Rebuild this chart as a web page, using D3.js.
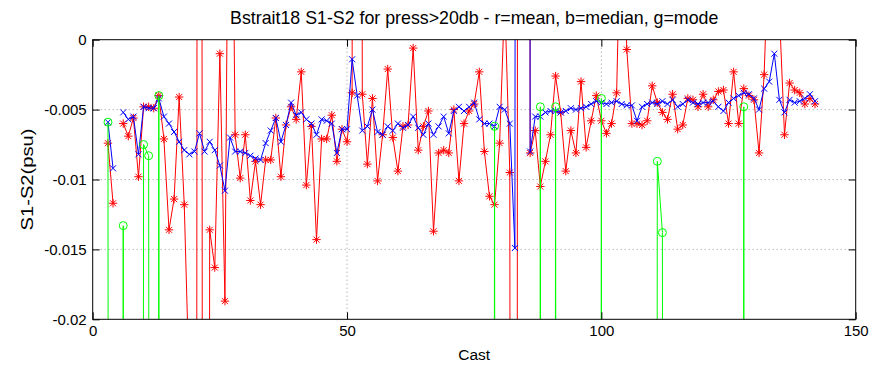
<!DOCTYPE html>
<html><head><meta charset="utf-8">
<script src="https://cdn.jsdelivr.net/npm/d3@7"></script>
<style>
body{margin:0;background:#fff;}
text{font-family:"Liberation Sans",Arial,Helvetica,sans-serif;fill:#000;}
</style>
</head><body><svg id="c" width="884" height="365"></svg>
<script>
// ---- data (casts 3..142) ----
const casts = d3.range(3, 143);
const meanS1S2 = [
 -0.0074,-0.0117,null,-0.0060,-0.0069,-0.0056,-0.0098,-0.0048,-0.0048,-0.0049,
 -0.0040,-0.0071,-0.0136,-0.0114,-0.0041,-0.0118,-0.025,-0.3,0.3,-0.3,
 -0.0136,-0.0163,-0.0010,-0.0187,0.03,-0.0068,-0.0099,-0.0068,-0.0115,-0.0087,
 -0.0118,-0.0086,-0.0086,-0.0056,-0.0098,-0.0061,-0.0048,-0.0057,-0.0023,-0.0104,
 -0.0062,-0.0143,-0.0071,-0.0071,-0.0054,-0.0087,-0.0064,-0.0073,-0.0038,0.3,
 -0.0039,-0.0089,-0.0042,-0.0101,-0.0068,-0.0021,-0.0070,-0.0094,-0.0062,-0.0061,
 -0.0006,-0.0079,-0.0062,-0.0051,-0.0137,-0.0081,-0.0079,-0.0081,-0.0050,-0.0101,
 -0.0060,-0.0051,-0.0046,-0.0023,-0.0080,-0.0112,-0.0118,-0.0074,0.0031,-0.0095,
 -0.4,0.4,0.4,-0.0081,-0.0065,-0.0105,-0.0087,-0.0068,-0.0026,-0.0052,
 -0.0094,-0.0065,-0.0081,-0.0030,-0.0077,-0.0058,-0.0040,-0.0058,-0.0067,-0.0060,
 -0.0038,0.012,-0.0007,-0.0060,-0.0060,-0.0061,-0.0058,-0.0033,-0.0045,-0.0052,
 -0.0057,-0.0039,-0.0064,-0.0061,-0.0042,-0.0043,-0.0048,-0.0039,-0.0048,-0.0043,
 -0.0037,-0.0036,-0.0060,-0.0023,-0.0060,-0.0035,-0.0040,-0.0043,-0.0081,-0.0025,
 0.008,0.008,0.002,-0.0068,-0.0031,-0.0036,-0.0038,-0.0046,-0.0042,-0.0046
];
const medianS1S2 = [
 -0.0059,-0.0092,null,-0.0052,-0.0057,-0.0055,-0.0082,-0.0048,-0.0049,-0.0049,
 -0.0042,-0.0055,-0.0060,-0.0066,-0.0073,-0.0079,-0.0082,-0.0080,-0.0067,-0.0080,
 -0.0073,-0.0079,-0.0090,-0.0108,-0.0070,-0.0080,-0.0080,-0.0081,-0.0083,-0.0085,
 -0.0086,-0.0074,-0.0065,-0.0056,-0.0073,-0.0061,-0.0045,-0.0054,-0.0052,-0.0057,
 -0.0060,-0.0068,-0.0057,-0.0058,-0.0060,-0.0081,-0.0064,-0.0064,-0.0014,-0.0040,
 -0.0065,-0.0062,-0.0050,-0.0066,-0.0068,-0.0062,-0.0065,-0.0060,-0.0063,-0.0061,
 -0.0055,-0.0063,-0.0068,-0.0060,-0.0068,-0.0062,-0.0055,-0.0067,-0.0051,-0.0048,
 -0.0051,-0.0048,-0.0045,-0.0057,-0.0060,-0.0060,-0.0062,-0.0048,-0.0050,-0.0060,
 -0.0149,0.4,0.4,-0.0080,-0.0055,-0.0055,-0.0052,-0.0051,-0.0051,-0.0052,
 -0.0051,-0.0049,-0.0050,-0.0049,-0.0048,-0.0046,-0.0044,-0.0045,-0.0046,-0.0045,
 -0.0044,-0.0046,-0.0047,-0.0047,-0.0058,-0.0048,-0.0046,-0.0045,-0.0046,-0.0044,
 -0.0046,-0.0043,-0.0048,-0.0046,-0.0043,-0.0045,-0.0046,-0.0045,-0.0045,-0.0044,
 -0.0048,-0.0051,-0.0045,-0.0042,-0.0040,-0.0038,-0.0039,-0.0042,-0.0050,-0.0035,
 -0.0030,-0.0010,-0.0043,-0.0052,-0.0043,-0.0045,-0.0044,-0.0042,-0.0039,-0.0044
];
const OFF = -0.5; // mode values far below the plotted range
const modeS1S2 = [
 -0.0059,OFF,OFF,-0.0133,OFF,OFF,OFF,-0.0075,-0.0083,OFF,
 -0.0040,OFF,OFF,OFF,OFF,OFF,OFF,OFF,OFF,OFF,
 OFF,OFF,OFF,OFF,OFF,OFF,OFF,OFF,OFF,OFF,
 OFF,OFF,OFF,OFF,OFF,OFF,OFF,OFF,OFF,OFF,
 OFF,OFF,OFF,OFF,OFF,OFF,OFF,OFF,OFF,OFF,
 OFF,OFF,OFF,OFF,OFF,OFF,OFF,OFF,OFF,OFF,
 OFF,OFF,OFF,OFF,OFF,OFF,OFF,OFF,OFF,OFF,
 OFF,OFF,OFF,OFF,OFF,OFF,-0.0062,OFF,OFF,OFF,
 OFF,OFF,OFF,OFF,OFF,-0.0048,OFF,OFF,-0.0048,OFF,
 OFF,OFF,OFF,OFF,OFF,OFF,OFF,-0.0042,OFF,OFF,
 OFF,OFF,OFF,OFF,OFF,OFF,OFF,OFF,-0.0087,-0.0138,
 OFF,OFF,OFF,OFF,OFF,OFF,OFF,OFF,OFF,OFF,
 OFF,OFF,OFF,OFF,OFF,-0.0048,OFF,OFF,OFF,OFF,
 OFF,OFF,OFF,OFF,OFF,OFF,OFF,OFF,OFF,OFF
];
const xTicks = [0, 50, 100, 150];
const yTicks = [0, -0.005, -0.01, -0.015, -0.02];
const yTickLabels = ["0", "-0.005", "-0.01", "-0.015", "-0.02"];
const titleText = "Bstrait18 S1-S2 for press>20db - r=mean, b=median, g=mode";
const xLabel = "Cast";
const yLabel = "S1-S2(psu)";

// ---- layout ----
const L = 92.7, R = 855.7, T = 39.7, B = 319.3;
const svg = d3.select("#c");
const x = d3.scaleLinear().domain([0, 150]).range([L, R]);
const y = d3.scaleLinear().domain([-0.02, 0]).range([B, T]);

svg.append("rect").attr("width", 884).attr("height", 365).attr("fill", "#fff");
svg.append("defs").append("clipPath").attr("id", "clip")
  .append("rect").attr("x", L).attr("y", T).attr("width", R - L).attr("height", B - T);

// grid
const grid = svg.append("g").attr("stroke", "#9a9a9a").attr("stroke-width", 1).attr("stroke-dasharray", "1,3");
xTicks.filter(t => t > 0 && t < 150).forEach(t =>
  grid.append("line").attr("x1", x(t)).attr("x2", x(t)).attr("y1", T).attr("y2", B));
yTicks.filter(t => t < 0 && t > -0.02).forEach(t =>
  grid.append("line").attr("x1", L).attr("x2", R).attr("y1", y(t)).attr("y2", y(t)));

// series
const plot = svg.append("g").attr("clip-path", "url(#clip)");
function series(vals, color, marker) {
  const pts = casts.map((c, i) => ({c, v: vals[i]}));
  const line = d3.line().defined(d => d.v !== null).x(d => x(d.c)).y(d => y(d.v));
  plot.append("path").datum(pts).attr("d", line).attr("fill", "none")
    .attr("stroke", color).attr("stroke-width", 1);
  const g = plot.append("g").attr("stroke", color).attr("stroke-width", 1).attr("fill", "none");
  pts.filter(d => d.v !== null && d.v <= 0.001 && d.v >= -0.021).forEach(d => {
    const px = x(d.c), py = y(d.v);
    if (marker === "star") {
      const s = 4.2, a = 3;
      g.append("path").attr("d",
        `M${px - s},${py}H${px + s}M${px},${py - s}V${py + s}M${px - a},${py - a}L${px + a},${py + a}M${px - a},${py + a}L${px + a},${py - a}`);
    } else if (marker === "x") {
      const a = 3;
      g.append("path").attr("d",
        `M${px - a},${py - a}L${px + a},${py + a}M${px - a},${py + a}L${px + a},${py - a}`);
    } else {
      g.append("circle").attr("cx", px).attr("cy", py).attr("r", 4);
    }
  });
}
series(meanS1S2, "#ff0000", "star");
series(medianS1S2, "#0000ff", "x");
series(modeS1S2, "#00ff00", "circle");

// axes box
svg.append("rect").attr("x", L).attr("y", T).attr("width", R - L).attr("height", B - T)
  .attr("fill", "none").attr("stroke", "#000").attr("stroke-width", 1);

const fs = "15px";
const axL = d3.axisLeft(y).tickValues(yTicks).tickSizeInner(-7).tickSizeOuter(0).tickPadding(6)
  .tickFormat((d, i) => yTickLabels[i]);
svg.append("g").attr("transform", `translate(${L},0)`).call(axL);
const axR = d3.axisRight(y).tickValues(yTicks).tickSizeInner(-7).tickSizeOuter(0).tickFormat("");
svg.append("g").attr("transform", `translate(${R},0)`).call(axR);
const axB = d3.axisBottom(x).tickValues(xTicks).tickSizeInner(-7).tickSizeOuter(0).tickPadding(6)
  .tickFormat(d3.format("d"));
svg.append("g").attr("transform", `translate(0,${B})`).call(axB);
const axT = d3.axisTop(x).tickValues(xTicks).tickSizeInner(-7).tickSizeOuter(0).tickFormat("");
svg.append("g").attr("transform", `translate(0,${T})`).call(axT);
svg.selectAll(".domain").remove();
svg.selectAll(".tick line").attr("stroke", "#000");
svg.selectAll(".tick text").attr("font-size", fs).attr("font-family", "Liberation Sans, Arial, sans-serif").attr("fill", "#000");

// labels
svg.append("text").attr("x", (L + R) / 2).attr("y", 24).attr("text-anchor", "middle")
  .attr("font-size", "17.8px").text(titleText);
svg.append("text").attr("x", (L + R) / 2).attr("y", 360).attr("text-anchor", "middle")
  .attr("font-size", "15.5px").text(xLabel);
svg.append("text").attr("transform", `translate(33,${(T + B) / 2}) rotate(-90)`)
  .attr("text-anchor", "middle").attr("font-size", "16px")
  .attr("textLength", 102).attr("lengthAdjust", "spacingAndGlyphs").text(yLabel);
</script>
</body></html>
